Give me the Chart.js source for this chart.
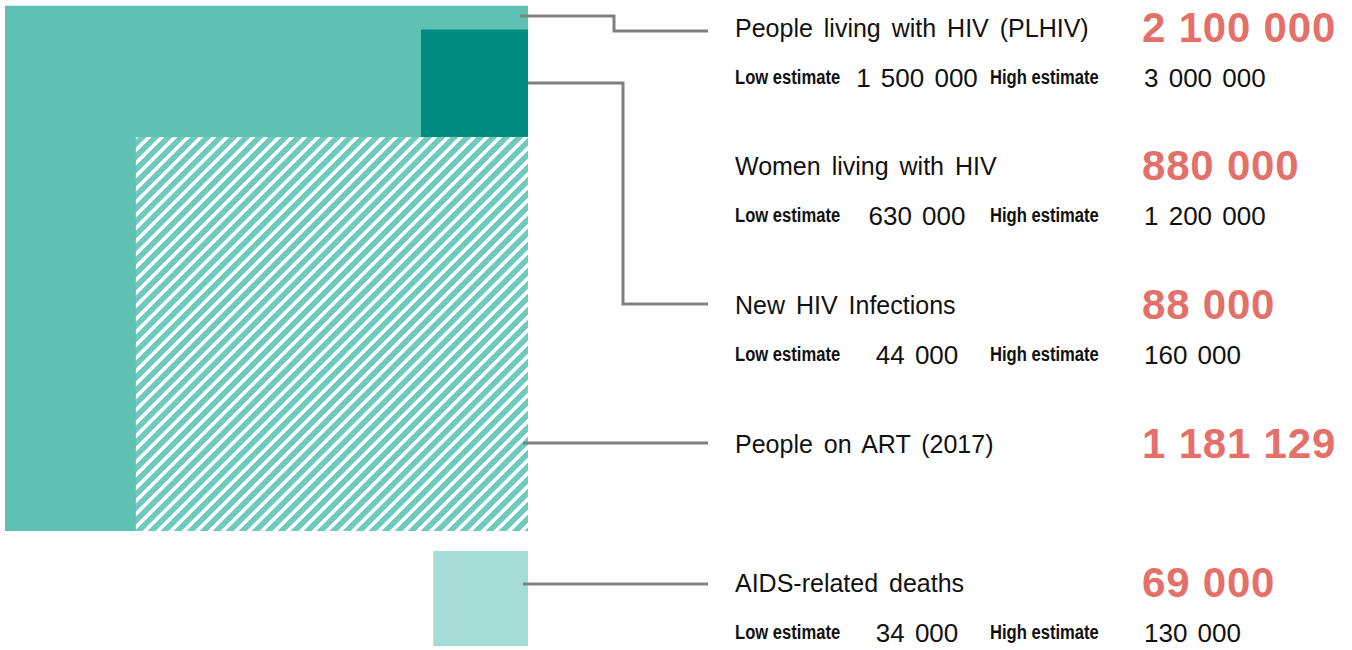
<!DOCTYPE html>
<html>
<head>
<meta charset="utf-8">
<script src="https://cdn.jsdelivr.net/npm/chart.js@4.4.1/dist/chart.umd.min.js"></script>
<style>
  html, body { margin: 0; padding: 0; background: #fff; }
  body { width: 1352px; height: 650px; position: relative; overflow: hidden;
         font-family: "Liberation Sans", Arial, sans-serif; color: #111; }
  #chart-wrap { position: absolute; left: 0; top: 0; width: 730px; height: 650px; }
  .t { position: absolute; white-space: nowrap; line-height: 1; }
  .lbl { font-size: 25px; word-spacing: 4px; }
  .big { font-size: 42px; font-weight: bold; color: #e3716a; letter-spacing: 0.8px; }
  .est { font-size: 20px; font-weight: bold; transform: scaleX(0.83); transform-origin: left center; }
  .num { font-size: 26px; word-spacing: 3px; }
</style>
</head>
<body>
<div id="chart-wrap"><canvas id="hiv-chart"></canvas></div>
<div id="texts"></div>
<script>
/* ── data ─────────────────────────────────────────────────────────── */
const CATEGORIES = ['People living with HIV (PLHIV)', 'Women living with HIV', 'New HIV Infections', 'People on ART (2017)', 'AIDS-related deaths'];
const VALUES     = [2100000, 880000, 88000, 1181129, 69000];
const LOW        = [1500000, 630000, 44000, null, 34000];
const HIGH       = [3000000, 1200000, 160000, null, 130000];

/* ── layout (pixels) ──────────────────────────────────────────────── */
const W = 730, H = 650;
const KX = 0.361, KY = 0.3625;          // px per sqrt(person)
const RIGHT_PX = 528, BASE_PX = 531;    // square anchor (right / bottom)
const X_MIN = -RIGHT_PX / KX, X_MAX = (W - RIGHT_PX) / KX;
const Y_MAX = BASE_PX / KY,  Y_MIN = -(H - BASE_PX) / KY;
const DEATH_GAP = 20 / KY;

const ROW_Y   = [37, 175, 314, 453, 592];   // label baselines
const toX = px => X_MIN + px / KX;
const toY = py => Y_MAX - py / KY;

const side = v => Math.sqrt(v);
const sPl  = side(VALUES[0]);
const sArt = side(VALUES[3]);
const sNew = side(VALUES[2]);
const sDth = side(VALUES[4]);

function hatch() {
    const p = 13;
    const c = document.createElement('canvas');
    c.width = p; c.height = p;
    const g = c.getContext('2d');
    g.fillStyle = '#6fcabe';
    g.fillRect(0, 0, p, p);
    g.strokeStyle = '#ffffff';
    g.lineWidth = 3.6;
    g.beginPath();
    g.moveTo(-p / 2, p / 2);  g.lineTo(p / 2, -p / 2);
    g.moveTo(0, p);           g.lineTo(p, 0);
    g.moveTo(p / 2, p * 1.5); g.lineTo(p * 1.5, p / 2);
    g.stroke();
    return g.createPattern(c, 'repeat');
}

function square(x0, x1, y0, y1, color) {
    return {
        data: [{ x: x0, y: y1 }, { x: x1, y: y1 }],
        fill: { value: y0 },
        backgroundColor: color,
        borderColor: 'transparent',
        borderWidth: 0,
        pointRadius: 0
    };
}

function leader(pts) {
    return {
        data: pts.map(p => ({ x: toX(p[0]), y: toY(p[1]) })),
        borderColor: '#808080',
        borderWidth: 3,
        fill: false,
        pointRadius: 0,
        tension: 0,
        borderJoinStyle: 'miter'
    };
}

const datasets = [
    leader([[520, 16], [614, 16], [614, 31], [708, 31]]),
    leader([[528, 83], [623, 83], [623, 304], [708, 304]]),
    leader([[523, 443], [708, 443]]),
    leader([[523, 584], [708, 584]]),
    square(-sNew, 0, sArt, sArt + sNew, '#008c7e'),
    square(-sArt, 0, 0, sArt, hatch()),
    square(-sPl, 0, 0, sPl, '#5fc0b4'),
    square(-sDth, 0, -DEATH_GAP - sDth, -DEATH_GAP, '#a6dcd6')
];

new Chart(document.getElementById('hiv-chart'), {
    type: 'line',
    data: { datasets },
    options: {
        responsive: true,
        maintainAspectRatio: false,
        animation: false,
        layout: { padding: 0 },
        plugins: { legend: { display: false }, tooltip: { enabled: false } },
        scales: {
            x: { type: 'linear', min: X_MIN, max: X_MAX, display: false },
            y: { type: 'linear', min: Y_MIN, max: Y_MAX, display: false }
        }
    }
});

/* ── text column ──────────────────────────────────────────────────── */
const fmt = n => String(n).replace(/\B(?=(\d{3})+(?!\d))/g, ' ');
const box = document.getElementById('texts');

function put(cls, text, x, baseline, size, align) {
    const el = document.createElement('div');
    el.className = 't ' + cls;
    el.textContent = text;
    el.style.top = (baseline - 0.847 * size) + 'px';
    if (align === 'center') {
        el.style.left = (x - 100) + 'px';
        el.style.width = '200px';
        el.style.textAlign = 'center';
    } else {
        el.style.left = x + 'px';
    }
    box.appendChild(el);
}

CATEGORIES.forEach((name, i) => {
    const yb = ROW_Y[i];
    put('lbl', name, 735, yb, 25);
    put('big', fmt(VALUES[i]), 1142, yb + 6, 42);
    if (LOW[i] != null) {
        put('est', 'Low estimate', 735, yb + 47, 20);
        put('num', fmt(LOW[i]), 917, yb + 50, 26, 'center');
        put('est', 'High estimate', 990, yb + 47, 20);
        put('num', fmt(HIGH[i]), 1144, yb + 50, 26);
    }
});
</script>
</body>
</html>
